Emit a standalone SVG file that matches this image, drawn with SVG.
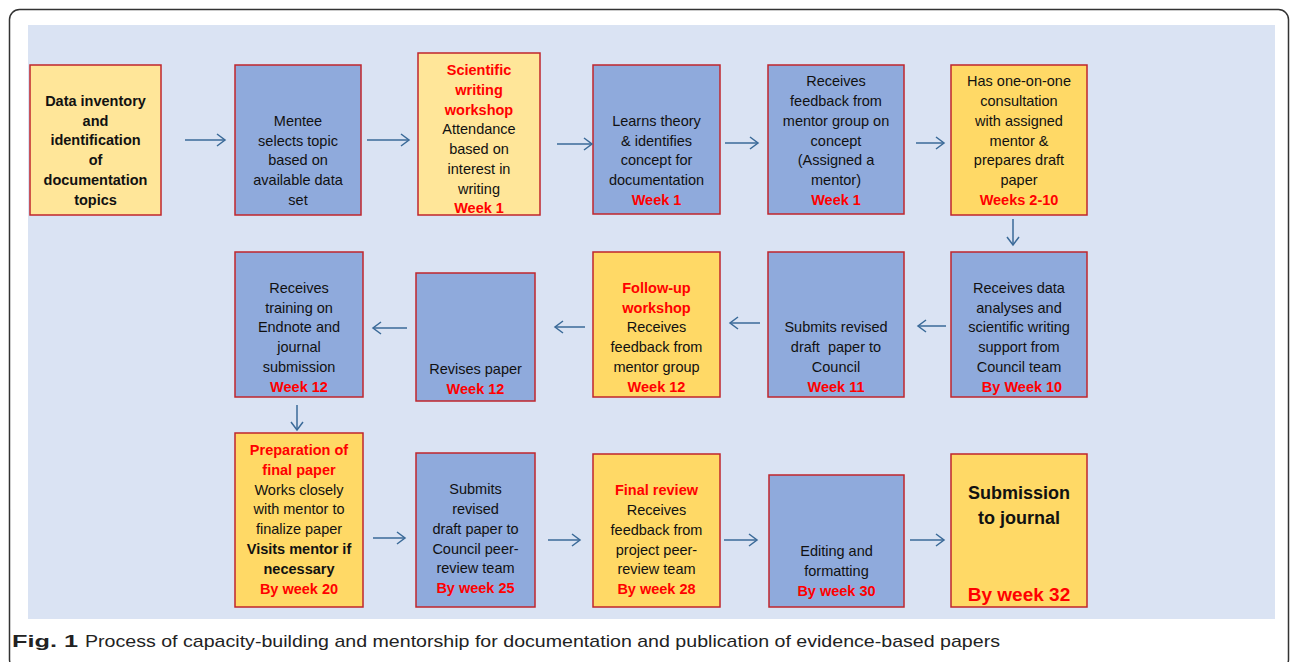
<svg xmlns="http://www.w3.org/2000/svg" width="1290" height="662" viewBox="0 0 1290 662">
<style>
.frame{fill:#fff;stroke:#333;stroke-width:1.5}
.panel{fill:#DAE3F3}
.b{fill:#8FAADC;stroke:#C0262D;stroke-width:1.5}
.y{fill:#FFD966;stroke:#C0262D;stroke-width:1.5}
.ly{fill:#FFE699;stroke:#C0262D;stroke-width:1.5}
text{font-family:"Liberation Sans",Arial,sans-serif;font-size:14.5px;fill:#111;text-anchor:middle}
.r{fill:#FF0000;font-weight:bold}
.k{font-weight:bold}
.conn line{stroke:#3A6A98;stroke-width:1.5;marker-end:url(#ah)}
.cap{text-anchor:start;font-size:17px;fill:#222}
</style>
<defs>
<marker id="ah" markerUnits="userSpaceOnUse" markerWidth="12" markerHeight="14" refX="10" refY="7" orient="auto">
<path d="M2,1 L10,7 L2,13" fill="none" stroke="#3A6A98" stroke-width="1.5"/>
</marker>
</defs>
<rect class="frame" x="9.5" y="9.5" width="1279" height="660" rx="10"/>
<rect class="panel" x="28" y="25" width="1247" height="594"/>

<g id="n1"><rect class="ly" x="30" y="65" width="131" height="150"/>
<text class="k" x="95.5" y="106">Data inventory</text><text class="k" x="95.5" y="126">and</text><text class="k" x="95.5" y="145">identification</text><text class="k" x="95.5" y="165">of</text><text class="k" x="95.5" y="185">documentation</text><text class="k" x="95.5" y="205">topics</text></g>

<g id="n2"><rect class="b" x="235" y="65" width="126" height="150"/>
<text x="298" y="126">Mentee</text><text x="298" y="146">selects topic</text><text x="298" y="165">based on</text><text x="298" y="185">available data</text><text x="298" y="205">set</text></g>

<g id="n3"><rect class="ly" x="418" y="53" width="122" height="162"/>
<text class="r" x="479" y="75">Scientific</text><text class="r" x="479" y="95">writing</text><text class="r" x="479" y="115">workshop</text><text x="479" y="134">Attendance</text><text x="479" y="154">based on</text><text x="479" y="174">interest in</text><text x="479" y="194">writing</text><text class="r" x="479" y="213">Week 1</text></g>

<g id="n4"><rect class="b" x="593" y="65" width="127" height="149"/>
<text x="656.5" y="126">Learns theory</text><text x="656.5" y="146">&amp; identifies</text><text x="656.5" y="165">concept for</text><text x="656.5" y="185">documentation</text><text class="r" x="656.5" y="205">Week 1</text></g>

<g id="n5"><rect class="b" x="768" y="65" width="136" height="149"/>
<text x="836" y="86">Receives</text><text x="836" y="106">feedback from</text><text x="836" y="126">mentor group on</text><text x="836" y="146">concept</text><text x="836" y="165">(Assigned a</text><text x="836" y="185">mentor)</text><text class="r" x="836" y="205">Week 1</text></g>

<g id="n6"><rect class="y" x="951" y="65" width="136" height="150"/>
<text x="1019" y="86">Has one-on-one</text><text x="1019" y="106">consultation</text><text x="1019" y="126">with assigned</text><text x="1019" y="146">mentor &amp;</text><text x="1019" y="165">prepares draft</text><text x="1019" y="185">paper</text><text class="r" x="1019" y="205">Weeks 2-10</text></g>

<g id="n7"><rect class="b" x="951" y="252" width="136" height="145"/>
<text x="1019" y="293">Receives data</text><text x="1019" y="313">analyses and</text><text x="1019" y="332">scientific writing</text><text x="1019" y="352">support from</text><text x="1019" y="372">Council team</text><text class="r" x="1022" y="392">By Week 10</text></g>

<g id="n8"><rect class="b" x="768" y="252" width="136" height="145"/>
<text x="836" y="332">Submits revised</text><text x="836" y="352" xml:space="preserve">draft  paper to</text><text x="836" y="372">Council</text><text class="r" x="836" y="392">Week 11</text></g>

<g id="n9"><rect class="y" x="593" y="252" width="127" height="145"/>
<text class="r" x="656.5" y="293">Follow-up</text><text class="r" x="656.5" y="313">workshop</text><text x="656.5" y="332">Receives</text><text x="656.5" y="352">feedback from</text><text x="656.5" y="372">mentor group</text><text class="r" x="656.5" y="392">Week 12</text></g>

<g id="n10"><rect class="b" x="416" y="273" width="119" height="128"/>
<text x="475.5" y="374">Revises paper</text><text class="r" x="475.5" y="394">Week 12</text></g>

<g id="n11"><rect class="b" x="235" y="252" width="128" height="145"/>
<text x="299" y="293">Receives</text><text x="299" y="313">training on</text><text x="299" y="332">Endnote and</text><text x="299" y="352">journal</text><text x="299" y="372">submission</text><text class="r" x="299" y="392">Week 12</text></g>

<g id="n12"><rect class="y" x="235" y="433" width="128" height="174"/>
<text class="r" x="299" y="455">Preparation of</text><text class="r" x="299" y="475">final paper</text><text x="299" y="495">Works closely</text><text x="299" y="514">with mentor to</text><text x="299" y="534">finalize paper</text><text class="k" x="299" y="554">Visits mentor if</text><text class="k" x="299" y="574">necessary</text><text class="r" x="299" y="594">By week 20</text></g>

<g id="n13"><rect class="b" x="416" y="453" width="119" height="154"/>
<text x="475.5" y="494">Submits</text><text x="475.5" y="514">revised</text><text x="475.5" y="534">draft paper to</text><text x="475.5" y="554">Council peer-</text><text x="475.5" y="573">review team</text><text class="r" x="475.5" y="593">By week 25</text></g>

<g id="n14"><rect class="y" x="593" y="454" width="127" height="153"/>
<text class="r" x="656.5" y="495">Final review</text><text x="656.5" y="515">Receives</text><text x="656.5" y="535">feedback from</text><text x="656.5" y="555">project peer-</text><text x="656.5" y="574">review team</text><text class="r" x="656.5" y="594">By week 28</text></g>

<g id="n15"><rect class="b" x="769" y="475" width="135" height="132"/>
<text x="836.5" y="556">Editing and</text><text x="836.5" y="576">formatting</text><text class="r" x="836.5" y="596">By week 30</text></g>

<g id="n16"><rect class="y" x="951" y="454" width="136" height="153"/>
<text class="k" x="1019" y="499" style="font-size:18px">Submission</text><text class="k" x="1019" y="524" style="font-size:18px">to journal</text><text class="r" x="1019" y="601" style="font-size:19px">By week 32</text></g>

<g id="connectors" class="conn">
<line x1="185" y1="140" x2="225" y2="140"/>
<line x1="367" y1="140" x2="409" y2="140"/>
<line x1="557" y1="144" x2="592" y2="144"/>
<line x1="725" y1="143" x2="758" y2="143"/>
<line x1="916" y1="143" x2="944" y2="143"/>
<line x1="1013" y1="219" x2="1013" y2="245"/>
<line x1="946" y1="326" x2="918" y2="326"/>
<line x1="760" y1="323" x2="730" y2="323"/>
<line x1="585" y1="327" x2="555" y2="327"/>
<line x1="407" y1="328" x2="373" y2="328"/>
<line x1="297" y1="405" x2="297" y2="430"/>
<line x1="373" y1="538" x2="405" y2="538"/>
<line x1="548" y1="540" x2="580" y2="540"/>
<line x1="724" y1="540" x2="757" y2="540"/>
<line x1="910" y1="540" x2="944" y2="540"/>
</g>

<g id="caption">
<text class="cap" x="12" y="647" style="font-weight:bold" textLength="66" lengthAdjust="spacingAndGlyphs">Fig. 1</text>
<text class="cap" x="85" y="647" textLength="915" lengthAdjust="spacingAndGlyphs">Process of capacity-building and mentorship for documentation and publication of evidence-based papers</text>
</g>
</svg>
